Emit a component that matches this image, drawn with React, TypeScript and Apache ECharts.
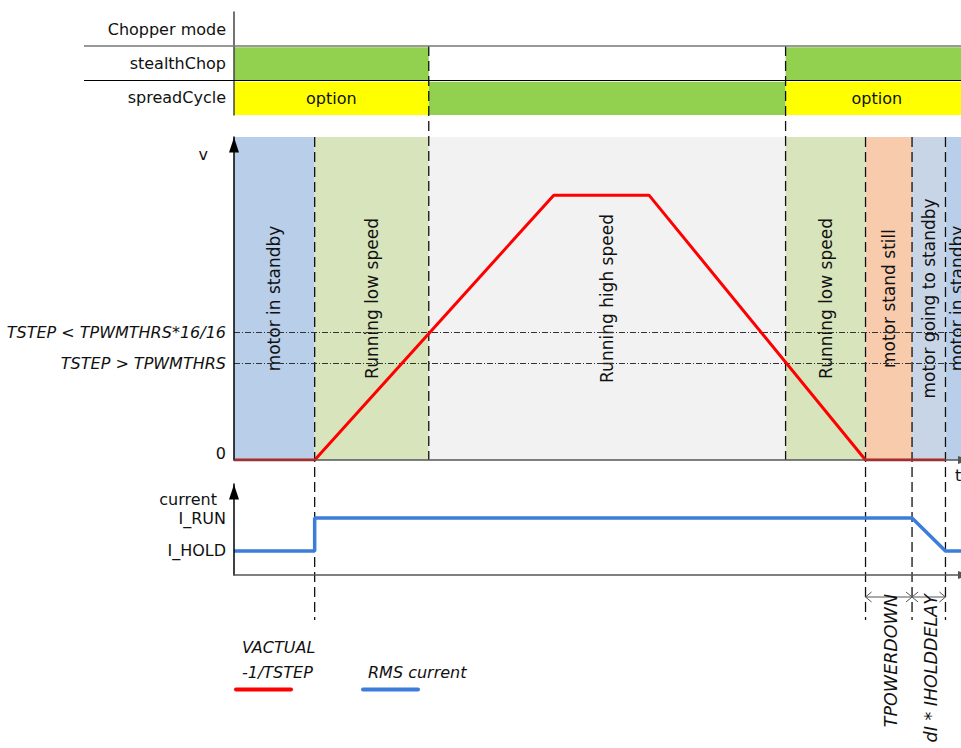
import React, { useEffect, useRef } from 'react';
import * as echarts from 'echarts';

const FONT = '"DejaVu Sans", Verdana, sans-serif';
const TEXT = '#111';

// ---------- time axis (arbitrary units) ----------
const timeMax = 101;

// ---------- motion phases (background bands of the velocity diagram) ----------
const phaseStart = [0, 11.1, 26.8, 75.9, 86.9, 93.3, 97.9];
const phaseEnd = [11.1, 26.8, 75.9, 86.9, 93.3, 97.9, 101];
const phaseLabel = [
  'motor in standby',
  'Running low speed',
  'Running high speed',
  'Running low speed',
  'motor stand still',
  'motor going to standby',
  'motor in standby',
];
const phaseColor = ['#B8CEE9', '#D8E4BC', '#F2F2F2', '#D8E4BC', '#F8CBAD', '#C8D5E6', '#B8CEE9'];

// ---------- chopper mode table ----------
const chopperRows = ['Chopper mode', 'stealthChop', 'spreadCycle'];
const chopperSegRow = [1, 1, 2, 2, 2];
const chopperSegStart = [0, 75.9, 0, 26.8, 75.9];
const chopperSegEnd = [26.8, 101, 26.8, 75.9, 101];
const chopperSegText = ['', '', 'option', '', 'option'];

// ---------- velocity ----------
const velocityTime = [0, 11.1, 44.0, 57.1, 86.9, 97.9];
const velocityValue = [0, 0, 82, 82, 0, 0];
const velocityTickValues = [0, 94.7];
const velocityTickLabels = ['0', 'v'];
const thresholdValue = [39.6, 30.0];
const thresholdLabel = ['TSTEP < TPWMTHRS*16/16', 'TSTEP > TPWMTHRS'];

// ---------- current ----------
const currentTime = [0, 11.1, 11.1, 93.3, 97.9, 101];
const currentValue = [26.4, 26.4, 62.6, 62.6, 26.4, 26.4];
const currentTickValues = [26.4, 62.6, 83.5];
const currentTickLabels = ['I_HOLD', 'I_RUN', 'current'];

// ---------- event markers ----------
const markerTime = [11.1, 26.8, 75.9, 86.9, 93.3, 97.9];
const markerKind = ['current', 'chopper', 'chopper', 'current', 'current', 'current'];

// ---------- timing dimensions ----------
const dimStart = [86.9, 93.3];
const dimEnd = [93.3, 97.9];
const dimLabel = ['TPOWERDOWN', 'dI * IHOLDDELAY'];

const seriesVelocity = 'VACTUAL -1/TSTEP';
const seriesCurrent = 'RMS current';

const RED = '#FF0000';
const BLUE = '#3B7DD8';

function buildOption(): any {
  const arrowAxisLine = (color: string, size: number[], offset: number[]) => ({
    show: true,
    symbol: ['none', 'triangle'],
    symbolSize: size,
    symbolOffset: offset,
    lineStyle: { color, width: 1.5 },
  });
  const gridBase = { left: 234, width: 734, outerBoundsMode: 'none', containLabel: false };

  return {
    animation: false,
    textStyle: { fontFamily: FONT },
    grid: [
      { ...gridBase, top: 12, height: 103 },
      { ...gridBase, top: 137, height: 323 },
      { ...gridBase, top: 484, height: 91 },
      { ...gridBase, top: 0, height: 748 },
    ],
    xAxis: [
      { type: 'value', gridIndex: 0, min: 0, max: timeMax, show: false },
      {
        type: 'value',
        gridIndex: 1,
        min: 0,
        max: timeMax,
        axisLine: arrowAxisLine('#555', [8, 12], [0, -4]),
        axisTick: { show: false },
        axisLabel: { show: false },
        splitLine: { show: false },
        name: 't',
        nameLocation: 'end',
        nameGap: -13,
        nameTextStyle: { fontSize: 16, color: TEXT, align: 'left', verticalAlign: 'top', padding: [7, 0, 0, 0] },
        z: 10,
      },
      {
        type: 'value',
        gridIndex: 2,
        min: 0,
        max: timeMax,
        axisLine: arrowAxisLine('#555', [8, 12], [0, -4]),
        axisTick: { show: false },
        axisLabel: { show: false },
        splitLine: { show: false },
        z: 10,
      },
      { type: 'value', gridIndex: 3, min: 0, max: timeMax, show: false },
    ],
    yAxis: [
      {
        type: 'category',
        gridIndex: 0,
        data: chopperRows,
        inverse: true,
        axisLine: { show: true, lineStyle: { color: '#444', width: 1.5 } },
        axisTick: { show: false },
        axisLabel: { fontSize: 16, color: TEXT, margin: 8 },
        splitLine: { show: false },
        z: 10,
      },
      {
        type: 'value',
        gridIndex: 1,
        min: 0,
        max: 100,
        axisLine: arrowAxisLine('#000', [10, 15], [0, -8]),
        axisTick: { show: false },
        splitLine: { show: false },
        axisLabel: {
          customValues: velocityTickValues,
          margin: 8,
          formatter: (v: number) => {
            const i = velocityTickValues.indexOf(v);
            const t = velocityTickLabels[i] ?? '';
            return t === 'v' ? '{v|v}' : '{z|' + t + '}';
          },
          rich: {
            v: { fontSize: 16, color: TEXT, padding: [0, 18, 0, 0] },
            z: { fontSize: 16, color: TEXT, padding: [0, 0, 14, 0] },
          },
        },
        z: 10,
      },
      {
        type: 'value',
        gridIndex: 2,
        min: 0,
        max: 100,
        axisLine: arrowAxisLine('#000', [10, 15], [0, -8]),
        axisTick: { show: false },
        splitLine: { show: false },
        axisLabel: {
          customValues: currentTickValues,
          margin: 8,
          formatter: (v: number) => {
            const i = currentTickValues.indexOf(v);
            const t = currentTickLabels[i] ?? '';
            return t === 'current' ? '{c|current}' : '{n|' + t + '}';
          },
          rich: {
            c: { fontSize: 16, color: TEXT, padding: [0, 9, 0, 0] },
            n: { fontSize: 16, color: TEXT },
          },
        },
        z: 10,
      },
      { type: 'value', gridIndex: 3, min: 0, max: 748, inverse: true, show: false },
    ],
    legend: [
      {
        data: [seriesVelocity],
        left: 228,
        top: 639,
        padding: 0,
        itemWidth: 0,
        itemHeight: 0,
        selectedMode: false,
        itemStyle: { opacity: 0 },
        lineStyle: { opacity: 0 },
        formatter: () => '{t|VACTUAL}\n{t|-1/TSTEP}\n{r| }',
        textStyle: {
          rich: {
            t: { fontSize: 16, fontStyle: 'italic', color: TEXT, lineHeight: 25, padding: [0, 0, 0, 8] },
            r: { width: 59, height: 4, lineHeight: 10, backgroundColor: RED, borderRadius: 2 },
          },
        },
      },
      {
        data: [seriesCurrent],
        left: 355,
        top: 664,
        padding: 0,
        itemWidth: 0,
        itemHeight: 0,
        selectedMode: false,
        itemStyle: { opacity: 0 },
        lineStyle: { opacity: 0 },
        formatter: () => '{t|RMS current}\n{b| }',
        textStyle: {
          rich: {
            t: { fontSize: 16, fontStyle: 'italic', color: TEXT, lineHeight: 25, padding: [0, 0, 0, 7] },
            b: { width: 59, height: 4, lineHeight: 10, backgroundColor: BLUE, borderRadius: 2 },
          },
        },
      },
    ],
    graphic: [
      { type: 'line', z: 50, shape: { x1: 84, y1: 46, x2: 961, y2: 46 }, style: { stroke: '#777', lineWidth: 1.5 } },
      { type: 'line', z: 50, shape: { x1: 84, y1: 80.5, x2: 961, y2: 80.5 }, style: { stroke: '#000', lineWidth: 1 } },
    ],
    series: [
      // chopper-mode table cells
      {
        type: 'custom',
        name: 'chopper',
        xAxisIndex: 0,
        yAxisIndex: 0,
        z: 1,
        encode: { x: 0, y: 1 },
        data: chopperSegStart.map((s, i) => [s, chopperSegRow[i], chopperSegEnd[i]]),
        renderItem: (params: any, api: any) => {
          const i = params.dataIndex;
          const p0 = api.coord([api.value(0), api.value(1)]);
          const p1 = api.coord([api.value(2), api.value(1)]);
          const h = api.size([0, 1])[1];
          const text = chopperSegText[i];
          const children: any[] = [
            {
              type: 'rect',
              shape: { x: p0[0], y: p0[1] - h / 2 + 1, width: p1[0] - p0[0], height: h - 1 },
              style: { fill: text === 'option' ? '#FFFF00' : '#92D050' },
            },
          ];
          if (text) {
            children.push({
              type: 'text',
              x: (p0[0] + p1[0]) / 2,
              y: p0[1] + 0.5,
              style: { text, fill: TEXT, fontSize: 16, fontFamily: FONT, align: 'center', verticalAlign: 'middle' },
            });
          }
          return { type: 'group', children };
        },
      },
      // phase bands of velocity diagram
      {
        type: 'custom',
        name: 'phases',
        xAxisIndex: 1,
        yAxisIndex: 1,
        z: 1,
        encode: { x: [0, 1] },
        data: phaseStart.map((s, i) => [s, phaseEnd[i]]),
        renderItem: (params: any, api: any) => {
          const i = params.dataIndex;
          const cs = params.coordSys;
          const x0 = api.coord([api.value(0), 0])[0];
          const x1 = api.coord([api.value(1), 0])[0];
          return {
            type: 'group',
            children: [
              { type: 'rect', shape: { x: x0, y: cs.y, width: x1 - x0, height: cs.height }, style: { fill: phaseColor[i] } },
              {
                type: 'text',
                x: (x0 + x1) / 2,
                y: cs.y + cs.height / 2,
                rotation: Math.PI / 2,
                style: {
                  text: phaseLabel[i],
                  fill: TEXT,
                  fontSize: 17,
                  fontFamily: FONT,
                  align: 'center',
                  verticalAlign: 'middle',
                },
              },
            ],
          };
        },
      },
      // velocity
      {
        type: 'line',
        name: seriesVelocity,
        xAxisIndex: 1,
        yAxisIndex: 1,
        z: 6,
        showSymbol: false,
        symbol: 'none',
        color: RED,
        lineStyle: { color: RED, width: 3 },
        data: velocityTime.map((t, i) => [t, velocityValue[i]]),
        markLine: {
          silent: true,
          symbol: ['none', 'none'],
          lineStyle: { color: '#333', width: 1, type: [6, 2, 1, 2] },
          label: {
            show: true,
            position: 'start',
            distance: 8,
            formatter: '{b}',
            fontStyle: 'italic',
            fontSize: 16,
            color: TEXT,
            fontFamily: FONT,
          },
          data: thresholdValue.map((v, i) => ({ yAxis: v, name: thresholdLabel[i] })),
        },
      },
      // current
      {
        type: 'line',
        name: seriesCurrent,
        xAxisIndex: 2,
        yAxisIndex: 2,
        z: 6,
        showSymbol: false,
        symbol: 'none',
        color: BLUE,
        lineStyle: { color: BLUE, width: 3.5 },
        data: currentTime.map((t, i) => [t, currentValue[i]]),
      },
      // event markers (dashed verticals)
      {
        type: 'custom',
        name: 'markers',
        xAxisIndex: 3,
        yAxisIndex: 3,
        z: 4,
        data: markerTime.map((t) => [t, 0]),
        renderItem: (params: any, api: any) => {
          const x = api.coord([api.value(0), 0])[0];
          const chop = markerKind[params.dataIndex] === 'chopper';
          return {
            type: 'line',
            shape: { x1: x, y1: chop ? 46 : 137, x2: x, y2: chop ? 460 : 620 },
            style: { stroke: '#111', lineWidth: 1.3, lineDash: [10, 5] },
          };
        },
      },
      // timing dimensions
      {
        type: 'custom',
        name: 'dimensions',
        xAxisIndex: 3,
        yAxisIndex: 3,
        z: 4,
        encode: { x: [0, 1] },
        data: dimStart.map((s, i) => [s, dimEnd[i]]),
        renderItem: (params: any, api: any) => {
          const i = params.dataIndex;
          const x1 = api.coord([api.value(0), 0])[0];
          const x2 = api.coord([api.value(1), 0])[0];
          const y = 597;
          const st = { stroke: '#555', lineWidth: 1, fill: null };
          return {
            type: 'group',
            children: [
              { type: 'line', shape: { x1, y1: y, x2, y2: y }, style: st },
              { type: 'polyline', shape: { points: [[x1 + 6, y - 5], [x1, y], [x1 + 6, y + 5]] }, style: st },
              { type: 'polyline', shape: { points: [[x2 - 6, y - 5], [x2, y], [x2 - 6, y + 5]] }, style: st },
              {
                type: 'text',
                x: (x1 + x2) / 2 + 2,
                y: 594,
                rotation: Math.PI / 2,
                style: {
                  text: dimLabel[i],
                  fill: TEXT,
                  fontSize: 17.5,
                  fontStyle: 'italic',
                  fontFamily: FONT,
                  align: 'right',
                  verticalAlign: 'middle',
                },
              },
            ],
          };
        },
      },
    ],
  };
}

export default function App() {
  const ref = useRef<HTMLDivElement>(null);
  useEffect(() => {
    if (!ref.current) return;
    const chart = echarts.init(ref.current, undefined, { renderer: 'svg' });
    chart.setOption(buildOption());
    return () => chart.dispose();
  }, []);
  return (
    <div
      ref={ref}
      style={{ position: 'fixed', left: 0, top: 0, width: 961, height: 748, background: '#fff' }}
    />
  );
}
